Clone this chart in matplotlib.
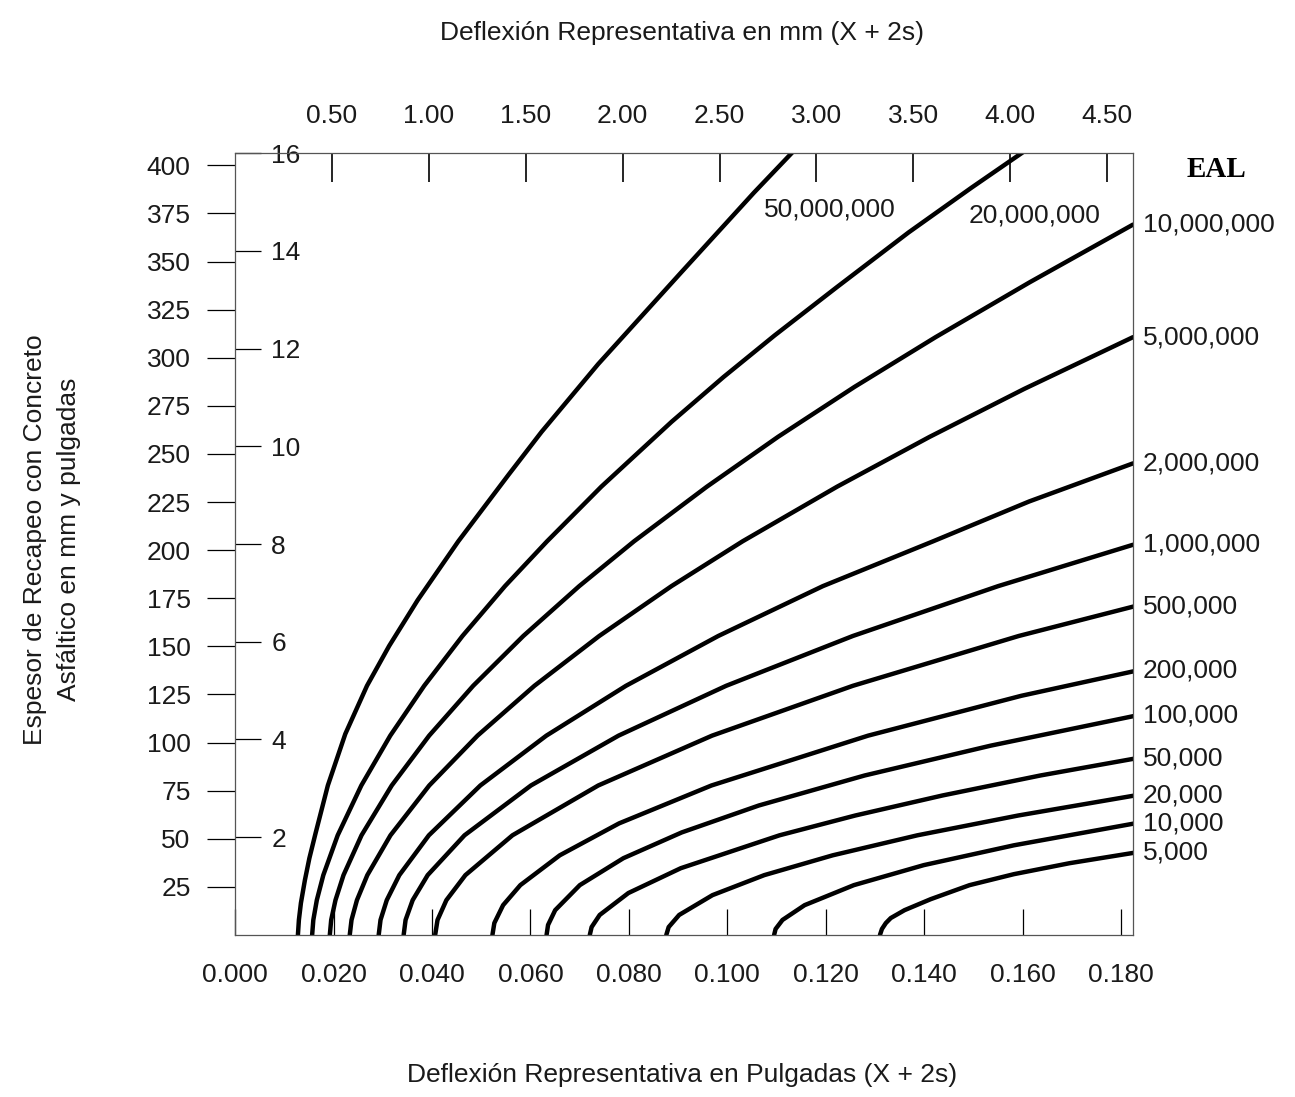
import matplotlib.pyplot as plt

plt.rcParams['font.family'] = ['Liberation Sans', 'DejaVu Sans']

# curves: deflection (in) vs overlay thickness (mm)
x_50m = [0.01277, 0.01297, 0.01338, 0.01419, 0.01510, 0.01634, 0.01885, 0.02240, 0.02680,
         0.03130, 0.03709, 0.04535, 0.05553, 0.06227, 0.07376, 0.09064, 0.1054, 0.1139]
y_50m = [0, 7.8, 16.6, 28.5, 39.9, 52.7, 77.7, 104.5, 129.5,
         150.2, 174.0, 204.6, 239.1, 261.5, 296.7, 344.4, 385.8, 408.6]

x_20m = [0.01566, 0.01590, 0.01661, 0.01793, 0.02085, 0.02565, 0.03153, 0.03842, 0.04620,
         0.05483, 0.06338, 0.07440, 0.08867, 0.09923, 0.1096, 0.1222, 0.1368, 0.1496, 0.1623]
y_20m = [0, 7.8, 18.1, 31.1, 51.8, 77.7, 103.6, 129.5, 155.4,
         181.3, 204.6, 233.0, 266.7, 290.0, 311.6, 336.6, 365.1, 388.4, 410.8]

x_10m = [0.01925, 0.01953, 0.02040, 0.02203, 0.02569, 0.03183, 0.03943, 0.04837, 0.05856,
         0.06991, 0.08105, 0.09585, 0.1103, 0.1258, 0.1423, 0.1614, 0.1824]
y_10m = [0, 7.8, 18.1, 31.1, 51.8, 77.7, 103.6, 129.5, 155.4,
         181.3, 204.6, 233.0, 258.9, 284.8, 310.7, 339.2, 369.2]

x_5m = [0.02330, 0.02366, 0.02476, 0.02687, 0.03157, 0.03945, 0.04926, 0.06081, 0.07398,
        0.08865, 0.1031, 0.1223, 0.1411, 0.1603, 0.1824]
y_5m = [0, 7.8, 18.1, 31.1, 51.8, 77.7, 103.6, 129.5, 155.4,
        181.3, 204.6, 233.0, 258.9, 283.8, 310.7]

x_2m = [0.02918, 0.02955, 0.03082, 0.03337, 0.03937, 0.04983, 0.06324, 0.07941, 0.09816,
        0.1194, 0.1418, 0.1613, 0.1824]
y_2m = [0, 7.8, 18.1, 31.1, 51.8, 77.7, 103.6, 129.5, 155.4,
        181.3, 204.6, 225.3, 245.1]

x_1m = [0.03425, 0.03464, 0.03608, 0.03913, 0.04661, 0.06011, 0.07790, 0.09976, 0.1255,
        0.1550, 0.1824]
y_1m = [0, 7.8, 18.1, 31.1, 51.8, 77.7, 103.6, 129.5, 155.4, 181.3, 202.8]

x_500k = [0.04065, 0.04113, 0.04293, 0.04679, 0.05635, 0.07378, 0.09690, 0.1255, 0.1592, 0.1828]
y_500k = [0, 7.8, 18.1, 31.1, 51.8, 77.7, 103.6, 129.5, 155.4, 170.9]

x_200k = [0.05228, 0.05267, 0.05445, 0.05795, 0.06596, 0.07801, 0.09678, 0.1286, 0.1597, 0.1828]
y_200k = [0, 6.2, 15.5, 25.9, 41.4, 58.0, 77.7, 103.6, 124.3, 137.2]

x_100k = [0.06328, 0.06358, 0.06503, 0.07003, 0.07888, 0.09074, 0.1064, 0.1279, 0.1535, 0.1828]
y_100k = [0, 5.2, 12.9, 25.9, 39.9, 53.3, 67.3, 82.9, 98.4, 113.9]

x_50k = [0.07206, 0.07243, 0.07407, 0.07990, 0.09054, 0.1106, 0.1260, 0.1437, 0.1636, 0.1828]
y_50k = [0, 4.1, 10.4, 21.8, 34.7, 51.8, 62.1, 72.5, 82.9, 91.7]

x_20k = [0.08760, 0.08808, 0.09021, 0.09698, 0.1075, 0.1214, 0.1386, 0.1591, 0.1828]
y_20k = [0, 4.1, 10.4, 20.7, 31.1, 41.4, 51.8, 62.1, 72.5]

x_10k = [0.1095, 0.1098, 0.1112, 0.1157, 0.1257, 0.1399, 0.1582, 0.1828]
y_10k = [0, 3.1, 7.8, 15.5, 25.9, 36.3, 46.6, 58.0]

x_5k = [0.1310, 0.1314, 0.1322, 0.1332, 0.1360, 0.1413, 0.1492, 0.1582, 0.1695, 0.1828]
y_5k = [0, 3.1, 6.2, 8.8, 12.9, 18.6, 25.9, 31.6, 37.3, 42.8]

curve_x = [x_50m, x_20m, x_10m, x_5m, x_2m, x_1m, x_500k, x_200k, x_100k,
           x_50k, x_20k, x_10k, x_5k]
curve_y = [y_50m, y_20m, y_10m, y_5m, y_2m, y_1m, y_500k, y_200k, y_100k,
           y_50k, y_20k, y_10k, y_5k]
eal_labels = ['50,000,000', '20,000,000', '10,000,000', '5,000,000', '2,000,000',
              '1,000,000', '500,000', '200,000', '100,000', '50,000', '20,000',
              '10,000', '5,000']

x_ticks_in = [0.000, 0.020, 0.040, 0.060, 0.080, 0.100, 0.120, 0.140, 0.160, 0.180]
x_ticks_mm = [0.50, 1.00, 1.50, 2.00, 2.50, 3.00, 3.50, 4.00, 4.50]
y_ticks_mm = [25, 50, 75, 100, 125, 150, 175, 200, 225, 250, 275, 300, 325, 350, 375, 400]
y_ticks_in = [2, 4, 6, 8, 10, 12, 14, 16]

fs = 19
ink = '#1a1a1a'
fig = plt.figure(figsize=(12.95, 10.97), dpi=100)
ax = fig.add_axes([0.1815, 0.1477, 0.6934, 0.7128])

for xs, ys in zip(curve_x, curve_y):
    ax.plot(xs, ys, color='black', lw=3.2, solid_capstyle='round', solid_joinstyle='round')

ax.set_xlim(0, 0.1824)
ax.set_ylim(0, 406.4)

for s in ax.spines.values():
    s.set_linewidth(0.9)
    s.set_color('#555555')

# bottom: inches
ax.set_xticks(x_ticks_in)
ax.set_xticklabels([f'{v:.3f}' for v in x_ticks_in])
ax.tick_params(axis='x', direction='in', length=19, width=0.9, pad=20, labelsize=fs,
               labelcolor=ink)

# left: mm
ax.set_yticks(y_ticks_mm)
ax.set_yticklabels([str(v) for v in y_ticks_mm])
ax.tick_params(axis='y', direction='out', length=20, width=0.9, pad=12, labelsize=fs,
               labelcolor=ink)

# top: mm
top = ax.secondary_xaxis('top', functions=(lambda i: i * 25.4, lambda mm: mm / 25.4))
top.set_xticks(x_ticks_mm)
top.set_xticklabels([f'{v:.2f}' for v in x_ticks_mm])
top.tick_params(direction='in', length=21, width=1.2, pad=18, labelsize=fs, labelcolor=ink)
top.spines['top'].set_visible(False)

# inner inch scale, ticks and labels inside the frame
inner = ax.secondary_yaxis(0.0, functions=(lambda mm: mm / 25.4, lambda i: i * 25.4))
inner.set_alignment('right')
inner.set_yticks(y_ticks_in)
inner.set_yticklabels([str(v) for v in y_ticks_in])
inner.tick_params(direction='out', length=19, width=0.9, pad=7, labelsize=fs, labelcolor=ink)
for s in inner.spines.values():
    s.set_visible(False)

# EAL labels at the right end of each curve
for xs, ys, lab in zip(curve_x[2:], curve_y[2:], eal_labels[2:]):
    ax.annotate(lab, xy=(1, ys[-1]), xycoords=('axes fraction', 'data'),
                xytext=(7, 0), textcoords='offset points', va='center', ha='left',
                fontsize=fs, color=ink, annotation_clip=False)
ax.text(0.1075, 377, eal_labels[0], fontsize=fs, va='center', ha='left', color=ink)
ax.text(0.1490, 374, eal_labels[1], fontsize=fs, va='center', ha='left', color=ink)
ax.annotate('EAL', xy=(1, 1), xycoords='axes fraction', xytext=(60, -12),
            textcoords='offset points', ha='center', va='center', fontsize=21,
            fontweight='bold', family='Liberation Serif', annotation_clip=False)

fig.text(0.527, 0.970, 'Deflexión Representativa en mm (X + 2s)', ha='center', va='center',
         fontsize=fs, color=ink)
fig.text(0.527, 0.020, 'Deflexión Representativa en Pulgadas (X + 2s)', ha='center',
         va='center', fontsize=fs, color=ink)
fig.text(0.040, 0.508, 'Espesor de Recapeo con Concreto\nAsfáltico en mm y pulgadas',
         ha='center', va='center', rotation=90, fontsize=fs, linespacing=1.5, color=ink)

fig.savefig('out.png', dpi=100)
